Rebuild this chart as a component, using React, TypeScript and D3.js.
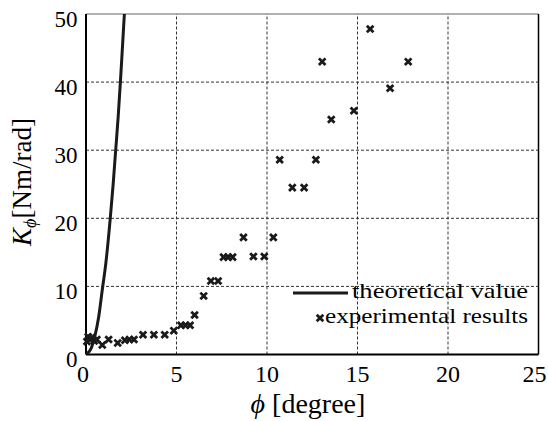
import React from "react";
import * as d3 from "d3";

// theoretical curve
const theoryPhi = [0, 0.3, 0.5, 0.7, 0.9, 1.1, 1.34, 1.5, 1.64, 1.78, 1.9, 2.0, 2.12];
const theoryK = [0, 1.0, 2.8, 5.5, 9.5, 13.5, 20, 25, 30, 35, 40, 44.5, 50];

// experimental results
const expPhi = [
  0.05, 0.12, 0.22, 0.32, 0.45, 0.6, 0.9, 1.25, 1.75, 2.15, 2.4, 2.65, 3.15, 3.75,
  4.35, 4.85, 5.25, 5.5, 5.75, 6.0, 6.5, 6.9, 7.3, 7.6, 7.85, 8.1, 8.7, 9.25, 9.85,
  10.35, 10.7, 11.4, 12.05, 12.7, 13.05, 13.55, 14.8, 15.7, 16.8, 17.8,
];
const expK = [
  1.9, 2.6, 2.2, 2.5, 2.0, 2.2, 1.4, 2.2, 1.7, 2.1, 2.2, 2.2, 2.9, 2.9,
  2.9, 3.5, 4.3, 4.3, 4.3, 5.8, 8.6, 10.8, 10.8, 14.3, 14.3, 14.3, 17.2, 14.4, 14.4,
  17.2, 28.6, 24.5, 24.5, 28.6, 43, 34.5, 35.8, 47.8, 39.1, 43,
];

const xTicks = [0, 5, 10, 15, 20, 25];
const yTicks = [0, 10, 20, 30, 40, 50];

const W = 548;
const H = 421;
const margin = { left: 86, right: 9.5, top: 14, bottom: 66.5 };

export default function App() {
  const x = d3.scaleLinear().domain([0, 25]).range([margin.left, W - margin.right]);
  const y = d3.scaleLinear().domain([0, 50]).range([H - margin.bottom, margin.top]);
  const [x0, x1] = x.range();
  const [y0, y1] = y.range();

  const theory = theoryPhi.map((p, i) => [p, theoryK[i]] as [number, number]);
  const line = d3
    .line<[number, number]>()
    .x(d => x(d[0]))
    .y(d => y(d[1]))
    .curve(d3.curveMonotoneX);

  const serif = { fontFamily: '"Liberation Serif"' };
  const ink = "#1a1a1a";
  const cross = (cx: number, cy: number, k: number) => (
    <path
      key={k}
      d={`M${cx - 3.3},${cy - 3.3}L${cx + 3.3},${cy + 3.3}M${cx - 3.3},${cy + 3.3}L${cx + 3.3},${cy - 3.3}`}
      stroke={ink}
      strokeWidth={2.8}
      fill="none"
    />
  );

  return (
    <svg
      width={W}
      height={H}
      style={{ position: "absolute", left: 0, top: 0, background: "#fff" }}
    >
      <defs>
        <clipPath id="plot">
          <rect x={x0} y={y1} width={x1 - x0} height={y0 - y1} />
        </clipPath>
      </defs>

      {/* grid */}
      {xTicks.slice(1, -1).map(t => (
        <line key={"gx" + t} x1={x(t)} x2={x(t)} y1={y0} y2={y1}
          stroke="#333" strokeWidth={1} strokeDasharray="3,2" />
      ))}
      {yTicks.slice(1, -1).map(t => (
        <line key={"gy" + t} x1={x0} x2={x1} y1={y(t)} y2={y(t)}
          stroke="#333" strokeWidth={1} strokeDasharray="3,2" />
      ))}

      {/* frame */}
      <line x1={x0} x2={x1} y1={y1} y2={y1} stroke="#666" strokeWidth={1.2} />
      <line x1={x1} x2={x1} y1={y1} y2={y0} stroke="#000" strokeWidth={1.5} />
      <line x1={x0} x2={x1} y1={y0} y2={y0} stroke="#000" strokeWidth={2} />
      <line x1={x0} x2={x0} y1={y1} y2={y0} stroke="#000" strokeWidth={2} />

      {/* tick labels */}
      {xTicks.map(t => (
        <text key={"tx" + t} x={x(t) - (t === 0 ? 3 : t === 25 ? 4 : 0)} y={y0 + 27} fontSize={24} textAnchor="middle" fill="#000" style={serif}>
          {t}
        </text>
      ))}
      {yTicks.map(t => (
        <text key={"ty" + t} x={77.5} y={y(t) + 12.5} fontSize={23} textAnchor="end" fill="#000" style={serif}>
          {t}
        </text>
      ))}

      {/* axis titles */}
      <text x={308} y={413} fontSize={28} textAnchor="middle" fill="#000" style={serif}>
        <tspan fontStyle="italic">ϕ</tspan> [degree]
      </text>
      <text transform="translate(31,182) rotate(-90)" fontSize={27} textAnchor="middle" fill="#000" style={serif}>
        <tspan fontStyle="italic">K</tspan>
        <tspan fontStyle="italic" fontSize={18} dy={5}>ϕ</tspan>
        <tspan dy={-5}>[Nm/rad]</tspan>
      </text>

      {/* theoretical curve */}
      <path d={line(theory) || ""} fill="none" stroke={ink} strokeWidth={3} clipPath="url(#plot)" />

      {/* experimental results */}
      {expPhi.map((p, i) => cross(x(p), y(expK[i]), i))}

      {/* legend */}
      <line x1={293} x2={348} y1={293} y2={293} stroke={ink} strokeWidth={3} />
      <text x={352} y={297.5} fontSize={21} fill="#000" style={serif}
        textLength={176} lengthAdjust="spacingAndGlyphs">theoretical value</text>
      {cross(320, 318, 999)}
      <text x={325} y={322.5} fontSize={21} fill="#000" style={serif}
        textLength={203} lengthAdjust="spacingAndGlyphs">experimental results</text>
    </svg>
  );
}
